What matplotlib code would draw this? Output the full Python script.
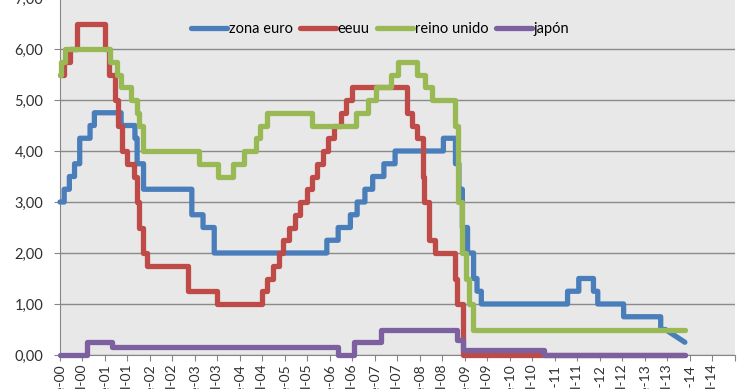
import matplotlib
matplotlib.use('Agg')
import numpy as np
import pandas as pd
import matplotlib.pyplot as plt
import matplotlib.dates as mdates
from matplotlib.ticker import FuncFormatter, MultipleLocator

plt.rcParams['font.family'] = ['Lato', 'DejaVu Sans']

# tipos de interés oficiales: fecha de cada cambio y nuevo valor
fechas_euro = ['2000-01-01', '2000-02-04', '2000-03-17', '2000-04-28', '2000-06-09', '2000-09-01',
               '2000-10-06', '2001-05-11', '2001-08-31', '2001-09-18', '2001-11-09', '2002-12-06',
               '2003-03-07', '2003-06-06', '2005-12-06', '2006-03-08', '2006-06-15', '2006-08-09',
               '2006-10-11', '2006-12-13', '2007-03-14', '2007-06-13', '2008-07-09', '2008-10-15',
               '2008-11-12', '2008-12-10', '2009-01-21', '2009-03-11', '2009-04-08', '2009-05-13',
               '2011-04-13', '2011-07-13', '2011-11-09', '2011-12-14', '2012-07-11', '2013-05-08',
               '2013-06-15', '2013-11-20']
tipos_euro = [3.00, 3.25, 3.50, 3.75, 4.25, 4.50, 4.75, 4.50, 4.25, 3.75, 3.25, 2.75,
              2.50, 2.00, 2.25, 2.50, 2.75, 3.00, 3.25, 3.50, 3.75, 4.00, 4.25, 3.75,
              3.25, 2.50, 2.00, 1.50, 1.25, 1.00, 1.25, 1.50, 1.25, 1.00, 0.75, 0.50,
              0.50, 0.25]

fechas_eeuu = ['2000-01-01', '2000-02-02', '2000-03-21', '2000-05-16', '2001-01-03', '2001-01-31',
               '2001-03-20', '2001-04-18', '2001-05-15', '2001-06-27', '2001-08-21', '2001-09-17',
               '2001-10-02', '2001-11-06', '2001-12-11', '2002-11-06', '2003-06-25', '2004-06-30',
               '2004-08-10', '2004-09-21', '2004-11-10', '2004-12-14', '2005-02-02', '2005-03-22',
               '2005-05-03', '2005-06-30', '2005-08-09', '2005-09-20', '2005-11-01', '2005-12-13',
               '2006-01-31', '2006-03-28', '2006-05-10', '2006-06-29', '2007-09-18', '2007-10-31',
               '2007-12-11', '2008-01-22', '2008-01-30', '2008-03-18', '2008-04-30', '2008-10-08',
               '2008-10-29', '2008-12-16', '2013-11-25']
tipos_eeuu = [5.50, 5.75, 6.00, 6.50, 6.00, 5.50, 5.00, 4.50, 4.00, 3.75, 3.50, 3.00,
              2.50, 2.00, 1.75, 1.25, 1.00, 1.25, 1.50, 1.75, 2.00, 2.25, 2.50, 2.75,
              3.00, 3.25, 3.50, 3.75, 4.00, 4.25, 4.50, 4.75, 5.00, 5.25, 4.75, 4.50,
              4.25, 3.50, 3.00, 2.25, 2.00, 1.50, 1.00, 0.00, 0.00]

fechas_ru = ['2000-01-01', '2000-01-13', '2000-02-10', '2001-02-08', '2001-04-05', '2001-05-10',
             '2001-08-02', '2001-09-18', '2001-10-04', '2001-11-08', '2003-02-06', '2003-07-10',
             '2003-11-06', '2004-02-05', '2004-05-06', '2004-06-10', '2004-08-05', '2005-08-04',
             '2006-08-03', '2006-11-09', '2007-01-11', '2007-05-10', '2007-07-05', '2007-12-06',
             '2008-02-07', '2008-04-10', '2008-10-08', '2008-11-06', '2008-12-04', '2009-01-08',
             '2009-02-05', '2009-03-05', '2013-11-25']
tipos_ru = [5.50, 5.75, 6.00, 5.75, 5.50, 5.25, 5.00, 4.75, 4.50, 4.00, 3.75, 3.50,
            3.75, 4.00, 4.25, 4.50, 4.75, 4.50, 4.75, 5.00, 5.25, 5.50, 5.75, 5.50,
            5.25, 5.00, 4.50, 3.00, 2.00, 1.50, 1.00, 0.50, 0.50]

fechas_japon = ['2000-01-01', '2000-08-11', '2001-02-28', '2006-03-09', '2006-07-14', '2007-02-21',
                '2008-10-31', '2008-12-19', '2010-10-05', '2013-11-25']
tipos_japon = [0.00, 0.25, 0.15, 0.00, 0.25, 0.50, 0.30, 0.10, 0.00, 0.00]

series = ['zona euro', 'eeuu', 'reino unido', 'japón']
colores = ['#4a7ebb', '#be4b48', '#98b954', '#7d60a0']


# pasa de cambios puntuales a una línea escalonada
# (el último tramo del euro va en rampa, como en el original)
def escalones(fechas, valores, rampa_final=False):
    f = pd.to_datetime(fechas)
    x, y = [f[0]], [valores[0]]
    for i in range(1, len(f)):
        if not (rampa_final and i == len(f) - 1):
            x.append(f[i])
            y.append(valores[i - 1])
        x.append(f[i])
        y.append(valores[i])
    return x, y


# etiquetas tipo ene-00 / jul-00; la marca final del eje va sin texto
def etiqueta_mes(v, pos):
    d = mdates.num2date(v)
    if d.year >= 2015:
        return ''
    return ('ene' if d.month == 1 else 'jul') + d.strftime('-%y')


fig = plt.figure(figsize=(7.4, 3.89), dpi=100)
ax = fig.add_axes([60 / 740, 34 / 389, 675 / 740, 357 / 389])
ax.set_facecolor('#e8e8e8')

datos = [(fechas_euro, tipos_euro, True), (fechas_eeuu, tipos_eeuu, False),
         (fechas_ru, tipos_ru, False), (fechas_japon, tipos_japon, False)]
for (f, v, rampa), nombre, c in zip(datos, series, colores):
    x, y = escalones(f, v, rampa)
    ax.plot(x, y, color=c, lw=3.8, label=nombre, solid_joinstyle='round',
            solid_capstyle='round', clip_on=False, zorder=3)

ax.set_xlim(pd.Timestamp('2000-01-01'), pd.Timestamp('2015-01-01'))
ax.set_ylim(0, 7)
ax.yaxis.set_major_locator(MultipleLocator(1))
ax.yaxis.set_major_formatter(FuncFormatter(lambda v, p: ('%.2f' % v).replace('.', ',')))
ax.xaxis.set_major_locator(mdates.MonthLocator(bymonth=[1, 7]))
ax.xaxis.set_major_formatter(FuncFormatter(etiqueta_mes))

ax.grid(axis='y', color='#8a8a8a', lw=1)
ax.set_axisbelow(True)
for s in ['top', 'right']:
    ax.spines[s].set_visible(False)
for s in ['left', 'bottom']:
    ax.spines[s].set_color('#868686')

ax.tick_params(axis='x', rotation=90, labelsize=10, colors='#868686', labelcolor='#303030',
               length=4, pad=3)
ax.tick_params(axis='y', labelsize=10.5, colors='#868686', labelcolor='#303030',
               length=4, pad=8)

fig.legend(loc='center', bbox_to_anchor=(380 / 740, 1 - 29 / 389), ncol=4, frameon=False,
           fontsize=10.5, handlelength=2.5, handletextpad=0.1, columnspacing=0.5)

fig.savefig('out.png', dpi=100)
